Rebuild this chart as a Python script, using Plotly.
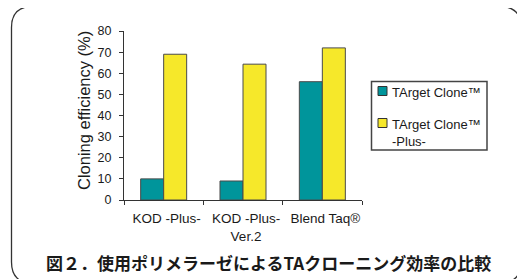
import plotly.graph_objects as go

categories = ["KOD -Plus-", "KOD -Plus-<br>Ver.2", "Blend Taq®"]
series_names = ["TArget Clone™", "TArget Clone™<br>-Plus-"]
target_clone = [10, 9, 56]
target_clone_plus = [69, 64.3, 72]
y_ticks = [0, 10, 20, 30, 40, 50, 60, 70, 80]
y_title = "Cloning efficiency (%)"
caption = "図２．使用ポリメラーゼによるTAクローニング効率の比較"

colors = ["#00959B", "#F6E82A"]
OFF = 8  # page body margin offset
W, H = 525 - OFF, 279 - OFF
L, T = 124 - OFF, 31 - OFF
PW, PH = 238, 169
R, B = W - L - PW, H - T - PH


def px(x):
    # screen pixel x -> paper
    return (x - OFF - L) / PW


def py(y):
    # screen pixel y -> paper
    return (T + PH - (y - OFF)) / PH


font_family = "Liberation Sans, Arial, sans-serif"
text_color = "#1a1a1a"

fig = go.Figure()
for name, vals, col in zip(series_names, [target_clone, target_clone_plus], colors):
    fig.add_trace(go.Bar(
        x=categories, y=vals, name=name,
        marker=dict(color=col, line=dict(color="#4a4a4a", width=1)),
        showlegend=False,
    ))

fig.update_layout(
    width=W, height=H,
    margin=dict(l=L, r=R, t=T, b=B),
    paper_bgcolor="white", plot_bgcolor="white",
    barmode="group", bargap=0.42, bargroupgap=0,
    font=dict(family=font_family, color=text_color),
)
fig.update_yaxes(
    range=[0, 80], tickvals=y_ticks, ticks="outside", ticklen=4,
    tickcolor="#333", showline=True, linecolor="#333", linewidth=1,
    showgrid=False, zeroline=False, tickfont=dict(size=12.5),
    ticklabelstandoff=5,
)
fig.update_xaxes(
    type="category", ticks="outside", tickson="boundaries", ticklen=4,
    tickcolor="#333", showline=True, linecolor="#333", linewidth=1,
    showgrid=False, tickfont=dict(size=13.5), ticklabelshift=3,
    ticklabelstandoff=6,
)

# y-axis title
fig.add_annotation(
    text=y_title, x=px(84), y=py(111), xref="paper", yref="paper",
    textangle=-90, showarrow=False, xanchor="center", yanchor="middle",
    font=dict(size=16.5, family=font_family, color=text_color),
)

# legend box (manual)
fig.add_shape(type="rect", xref="paper", yref="paper",
              x0=px(371.5), x1=px(487), y0=py(81.5), y1=py(150),
              line=dict(color="#444", width=1.5), fillcolor="white")
leg_y = [91, 123]
for name, col, yy in zip(series_names, colors, leg_y):
    fig.add_shape(type="rect", xref="paper", yref="paper",
                  x0=px(378), x1=px(387), y0=py(yy - 4.5), y1=py(yy + 4.5),
                  line=dict(color="#333", width=1), fillcolor=col)
    fig.add_annotation(
        text=name, x=px(390), y=py(yy - 8), xref="paper", yref="paper",
        showarrow=False, xanchor="left", yanchor="top", align="left",
        font=dict(size=13, family=font_family, color=text_color),
    )

# rounded frame
x0, y0, x1, y1, r = 11.5, 6.5, 521, 283, 21
path = (
    f"M {px(x0)},{py(y0 + r)} "
    f"Q {px(x0)},{py(y0)} {px(x0 + r)},{py(y0)} "
    f"L {px(x1 - r)},{py(y0)} "
    f"Q {px(x1)},{py(y0)} {px(x1)},{py(y0 + r)} "
    f"L {px(x1)},{py(y1 - r)} "
    f"Q {px(x1)},{py(y1)} {px(x1 - r)},{py(y1)} "
    f"L {px(x0 + r)},{py(y1)} "
    f"Q {px(x0)},{py(y1)} {px(x0)},{py(y1 - r)} Z"
)
fig.add_shape(type="path", path=path, xref="paper", yref="paper",
              line=dict(color="#333", width=1.3), layer="below")

# caption
fig.add_annotation(
    text=f"<b>{caption}</b>", x=px(268), y=py(263), xref="paper", yref="paper",
    showarrow=False, xanchor="center", yanchor="middle",
    font=dict(size=17, family="Noto Sans CJK JP", color=text_color),
)

fig.write_html("out.html")
